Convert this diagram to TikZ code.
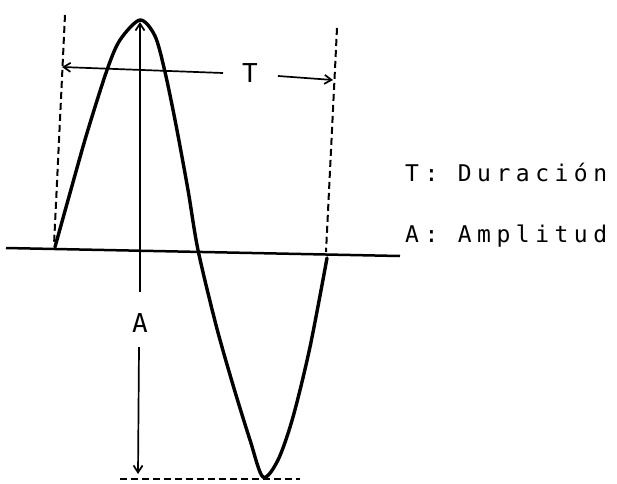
\documentclass[tikz,border=0pt]{standalone}
\usepackage{fontspec}
\newfontfamily\monofont[LetterSpace=24]{DejaVu Sans Mono}
\newfontfamily\labfont{DejaVu Sans Mono}
\usetikzlibrary{arrows.meta}
\tikzset{
  wave/.style={line width=3.4pt, line join=round, line cap=round},
  axisline/.style={line width=2.5pt},
  guide/.style={line width=2pt, dash pattern=on 7pt off 4pt},
  dim/.style={line width=1.7pt, -{Straight Barb[length=7pt,width=9pt,line width=1.7pt]}},
  legend/.style={anchor=base west, inner sep=0pt, font=\monofont\fontsize{23}{27}\selectfont},
  lab/.style={inner sep=0pt, font=\labfont\fontsize{26}{30}\selectfont}
}
\begin{document}
\begin{tikzpicture}[x=1pt,y=-1pt]
\useasboundingbox (0,0) rectangle (617,483);
% guide lines
\coordinate (lt) at (65,15);
\coordinate (lb) at (54,245);
\coordinate (rt) at (337,28);
\coordinate (rb) at (326,252);
\draw[guide] (lt) -- (lb);
\draw[guide] (rt) -- (rb);
\coordinate (bl) at (120,479);
\coordinate (br) at (300,479);
\draw[guide] (bl) -- (br);
% axis
\coordinate (ax1) at (6,248);
\coordinate (ax2) at (400,256);
\draw[axisline] (ax1) -- (ax2);
% wave
\draw[wave] plot[smooth, tension=0.5] coordinates {
 (55,247) (70,193) (87,133) (107,70) (120,40) (140,20) (155,36) (165,72)
 (176,125) (188,190) (198,250) (216,325) (233,385) (250,440) (263,477)
 (278,460) (293,417) (310,347) (327,258)};
% amplitude arrow
\node[lab] (A) at (140,323) {A};
\coordinate (Atop) at (140,22);
\coordinate (Abot) at (138,474);
\draw[dim] (140,292) -- (Atop);
\draw[dim] (139,347) -- (Abot);
% duration arrow
\node[lab] (T) at (250,73) {T};
\coordinate (Tl) at (62,67);
\coordinate (Tr) at (333,80);
\draw[dim] (223,73) -- (Tl);
\draw[dim] (278,76) -- (Tr);
% legend
\node[legend] (l1) at (405,181) {T: Duración};
\node[legend] (l2) at (405,242) {A: Amplitud};
\end{tikzpicture}
\end{document}
